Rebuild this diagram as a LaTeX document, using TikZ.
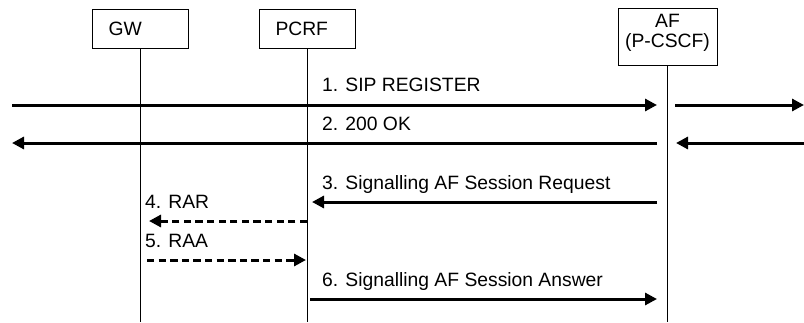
\documentclass[tikz,border=0pt]{standalone}
\usepackage{fontspec}
\setmainfont{Liberation Sans}
\usetikzlibrary{arrows.meta}

\begin{document}
\begin{tikzpicture}[x=1pt, y=-1pt,
        every node/.style={font=\fontsize{19.3}{19.5}\selectfont},
        entity/.style={draw, line width=1pt, minimum height=39pt, text width=63pt, inner xsep=16.5pt, align=left},
        lifeline/.style={line width=1pt},
        msg/.style={line width=3pt, -{Triangle[length=12pt, width=12pt]}},
        reply/.style={msg, dash pattern=on 7.3pt off 4.3pt},
        lbl/.style={anchor=base west, inner sep=0pt}]
            \useasboundingbox (0,0) rectangle (804,322);

            \node[entity] (gw) at (140,28.7) {GW};
            \node[entity] (pcrf) at (307,28.7) {PCRF};
            \node[draw, line width=1pt, minimum width=99pt, minimum height=56.7pt, align=center, text depth=13pt] (af) at (667.5,37.3) {AF\\(P-CSCF)};

            \coordinate (gwend) at (140,322);
            \coordinate (pcrfend) at (307,322);
            \coordinate (afend) at (667.5,322);
            \draw[lifeline] (gw) -- (gwend);
            \draw[lifeline] (pcrf) -- (pcrfend);
            \draw[lifeline] (af) -- (afend);

            \coordinate (m1a) at (12,105);
            \coordinate (m1b) at (657,105);
            \coordinate (m1c) at (675,105);
            \coordinate (m1d) at (804,105);
            \draw[msg] (m1a) -- (m1b);
            \draw[msg] (m1c) -- (m1d);
            \node[lbl] (l1) at (322,91.5) {1. SIP REGISTER};

            \coordinate (m2a) at (657,143);
            \coordinate (m2b) at (12,143);
            \coordinate (m2c) at (804,143);
            \coordinate (m2d) at (676,143);
            \draw[msg] (m2a) -- (m2b);
            \draw[msg] (m2c) -- (m2d);
            \node[lbl] (l2) at (322,130.5) {2. 200 OK};

            \coordinate (m3a) at (657,202);
            \coordinate (m3b) at (312,202);
            \draw[msg] (m3a) -- (m3b);
            \node[lbl] (l3) at (322,189.3) {3. Signalling AF Session Request};

            \coordinate (m4a) at (307,221);
            \coordinate (m4b) at (149,221);
            \draw[reply] (m4a) -- (m4b);
            \node[lbl] (l4) at (145,208.3) {4. RAR};

            \coordinate (m5a) at (147,260);
            \coordinate (m5b) at (306,260);
            \draw[reply] (m5a) -- (m5b);
            \node[lbl] (l5) at (145,247.3) {5. RAA};

            \coordinate (m6a) at (310,299);
            \coordinate (m6b) at (657,299);
            \draw[msg] (m6a) -- (m6b);
            \node[lbl] (l6) at (322,286.5) {6. Signalling AF Session Answer};

        \end{tikzpicture}
\end{document}
